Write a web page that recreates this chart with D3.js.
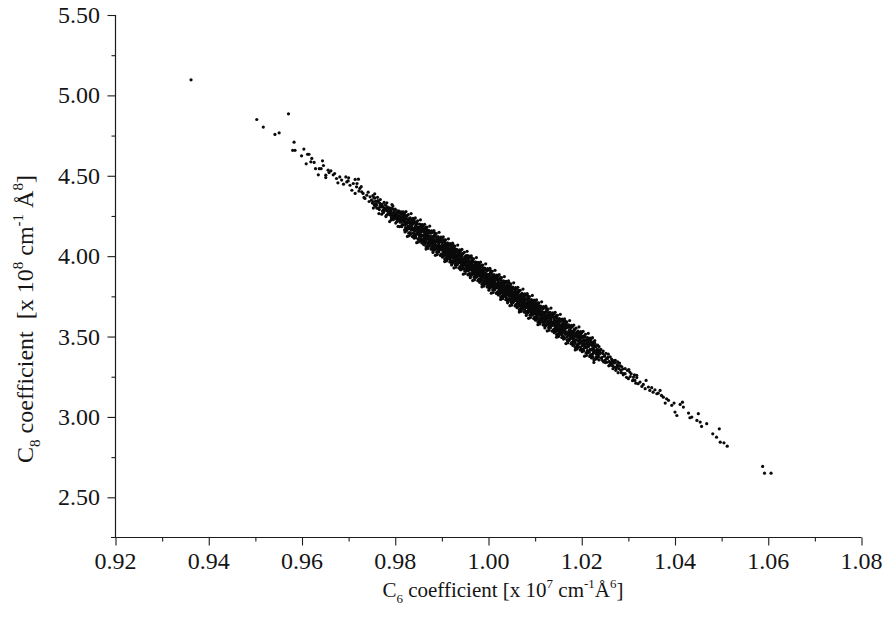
<!DOCTYPE html>
<html>
<head>
<meta charset="utf-8">
<script src="https://cdnjs.cloudflare.com/ajax/libs/d3/7.8.5/d3.min.js"></script>
<style>
	body { margin: 0; background: #ffffff; }
	svg text { font-family: "Liberation Serif", "Times New Roman", serif; fill: #151515; }
</style>
</head>
<body>
<svg id="chart" width="884" height="619"></svg>
<script>

// Tick values
var xTicks = [0.92, 0.94, 0.96, 0.98, 1.00, 1.02, 1.04, 1.06, 1.08];
var xMinor = [0.93, 0.95, 0.97, 0.99, 1.01, 1.03, 1.05, 1.07];
var yTicks = [2.50, 3.00, 3.50, 4.00, 4.50, 5.00, 5.50];
var yMinor = [2.75, 3.25, 3.75, 4.25, 4.75, 5.25];

// [C6, C8] pairs
var outlierPoints = [
	[0.9362,5.097],[0.9503,4.850],[0.9517,4.803],[0.9542,4.757],[0.9551,4.767],[0.9571,4.885],
	[0.9583,4.709],[0.9580,4.658],[0.9585,4.658]
];

var upperTail = [
	[0.9599,4.624],[0.9604,4.666],[0.9612,4.634],[0.9615,4.634],[0.9619,4.587],[0.9621,4.608],[0.9609,4.574],
	[0.9626,4.583],[0.9644,4.593],[0.9629,4.544],[0.9637,4.544],[0.9641,4.544],[0.9646,4.564],[0.9635,4.506],
	[0.9651,4.504],[0.9651,4.489],[0.9656,4.535],[0.9662,4.531],[0.9670,4.514],[0.9667,4.506],[0.9674,4.483],
	[0.9681,4.493],[0.9685,4.473],[0.9694,4.493],[0.9696,4.462],[0.9677,4.456],[0.9699,4.468],[0.9714,4.477],
	[0.9721,4.479],[0.9703,4.441],[0.9710,4.452],[0.9717,4.431],[0.9707,4.410],[0.9724,4.421],[0.9728,4.400],
	[0.9714,4.390],[0.9731,4.390],[0.9739,4.379],[0.9735,4.359],[0.9746,4.369],[0.9749,4.348],[0.9753,4.338],
	[0.9760,4.317],[0.9767,4.328],[0.9771,4.306],[0.9764,4.296],[0.9774,4.286],[0.9782,4.296],[0.9789,4.286],
	[0.9817,4.275],[0.9658,4.520],[0.9689,4.448],[0.9700,4.487],[0.9718,4.452],[0.9727,4.432],[0.9742,4.398],
	[0.9733,4.365],[0.9744,4.340],[0.9756,4.362],[0.9722,4.405]
];

var coreBand = [
	[0.9752,4.376],[0.9755,4.320],[0.9758,4.342],[0.9753,4.299],[0.9756,4.388],[0.9759,4.327],
	[0.9761,4.298],[0.9764,4.337],[0.9767,4.308],[0.9762,4.366],[0.9769,4.314],[0.9765,4.265],
	[0.9770,4.323],[0.9773,4.280],[0.9776,4.334],[0.9778,4.285],[0.9774,4.306],[0.9771,4.261],
	[0.9781,4.254],[0.9783,4.307],[0.9785,4.269],[0.9787,4.285],[0.9789,4.271],[0.9782,4.332],[0.9784,4.261],[0.9786,4.294],[0.9788,4.215],
	[0.9790,4.277],[0.9792,4.240],[0.9794,4.294],[0.9796,4.252],[0.9798,4.274],[0.9791,4.225],[0.9793,4.321],[0.9797,4.240],[0.9799,4.256],
	[0.9801,4.260],[0.9803,4.214],[0.9805,4.267],[0.9807,4.233],[0.9809,4.274],[0.9802,4.233],[0.9804,4.246],[0.9806,4.185],[0.9808,4.250],
	[0.9810,4.212],[0.9812,4.246],[0.9814,4.184],[0.9816,4.226],[0.9818,4.251],[0.9811,4.222],[0.9813,4.276],[0.9815,4.197],[0.9819,4.212],
	[0.9820,4.163],[0.9821,4.233],[0.9822,4.198],[0.9823,4.252],[0.9824,4.201],[0.9825,4.211],[0.9826,4.169],[0.9827,4.230],[0.9828,4.177],[0.9829,4.209],[0.9822,4.213],[0.9827,4.185],
	[0.9830,4.224],[0.9831,4.171],[0.9832,4.197],[0.9833,4.137],[0.9834,4.199],[0.9835,4.179],[0.9836,4.226],[0.9837,4.168],[0.9838,4.199],[0.9839,4.143],[0.9834,4.187],[0.9836,4.167],
	[0.9840,4.163],[0.9841,4.217],[0.9842,4.138],[0.9843,4.182],[0.9844,4.116],[0.9845,4.195],[0.9846,4.164],[0.9847,4.140],[0.9848,4.166],[0.9849,4.178],[0.9843,4.164],[0.9848,4.144],
	[0.9850,4.168],[0.9851,4.148],[0.9852,4.181],[0.9853,4.128],[0.9854,4.151],[0.9855,4.094],[0.9856,4.164],[0.9857,4.129],[0.9858,4.183],[0.9859,4.104],[0.9855,4.152],[0.9852,4.136],
	[0.9860,4.093],[0.9861,4.151],[0.9862,4.125],[0.9863,4.166],[0.9864,4.098],[0.9865,4.130],[0.9866,4.060],[0.9867,4.147],[0.9868,4.107],[0.9869,4.128],[0.9861,4.132],[0.9863,4.109],[0.9865,4.179],[0.9867,4.086],[0.9869,4.131],
	[0.9870,4.142],[0.9871,4.079],[0.9872,4.123],[0.9873,4.098],[0.9874,4.152],[0.9875,4.086],[0.9876,4.103],[0.9877,4.060],[0.9878,4.118],[0.9879,4.092],[0.9870,4.053],[0.9872,4.149],[0.9874,4.079],[0.9876,4.109],[0.9878,4.084],
	[0.9880,4.100],[0.9881,4.071],[0.9882,4.122],[0.9883,4.041],[0.9884,4.101],[0.9885,4.077],[0.9886,4.125],[0.9887,4.066],[0.9888,4.101],[0.9889,4.047],[0.9882,4.089],[0.9884,4.147],[0.9886,4.045],[0.9888,4.088],[0.9881,4.023],
	[0.9890,4.061],[0.9891,4.107],[0.9892,4.032],[0.9893,4.078],[0.9894,4.065],[0.9895,4.090],[0.9896,4.039],[0.9897,4.110],[0.9898,4.008],[0.9899,4.061],[0.9893,4.087],[0.9895,4.054],[0.9897,4.056],[0.9899,4.094],[0.9890,4.046],
	[0.9900,4.015],[0.9901,4.073],[0.9902,4.047],[0.9903,4.088],[0.9904,4.020],[0.9905,4.052],[0.9906,3.982],[0.9907,4.069],[0.9908,4.029],[0.9909,4.050],[0.9901,4.054],[0.9903,4.031],[0.9905,4.101],[0.9907,4.008],[0.9909,4.053],[0.9901,4.046],[0.9903,4.058],[0.9905,4.030],[0.9907,4.052],[0.9909,4.037],
	[0.9910,4.063],[0.9911,4.000],[0.9912,4.044],[0.9913,4.019],[0.9914,4.073],[0.9915,4.007],[0.9916,4.024],[0.9917,3.981],[0.9918,4.039],[0.9919,4.013],[0.9910,3.974],[0.9912,4.070],[0.9914,4.000],[0.9916,4.030],[0.9918,4.005],[0.9910,4.045],[0.9912,4.018],[0.9914,4.048],[0.9916,4.021],[0.9918,3.998],
	[0.9920,4.022],[0.9921,3.993],[0.9922,4.044],[0.9923,3.963],[0.9924,4.023],[0.9925,3.999],[0.9926,4.047],[0.9927,3.988],[0.9928,4.023],[0.9929,3.969],[0.9922,4.011],[0.9924,4.069],[0.9926,3.967],[0.9928,4.010],[0.9921,3.945],[0.9921,4.007],[0.9923,4.015],[0.9925,3.991],[0.9927,4.013],[0.9929,3.998],
	[0.9930,3.982],[0.9931,4.028],[0.9932,3.953],[0.9933,3.999],[0.9934,3.986],[0.9935,4.011],[0.9936,3.960],[0.9937,4.031],[0.9938,3.929],[0.9939,3.982],[0.9933,4.008],[0.9935,3.975],[0.9937,3.977],[0.9939,4.015],[0.9930,3.967],[0.9930,4.006],[0.9932,3.979],[0.9934,4.009],[0.9936,3.982],[0.9938,3.959],
	[0.9940,4.005],[0.9941,3.942],[0.9942,3.986],[0.9943,3.961],[0.9944,4.015],[0.9945,3.949],[0.9946,3.966],[0.9947,3.923],[0.9948,3.981],[0.9949,3.955],[0.9940,3.916],[0.9942,4.012],[0.9944,3.942],[0.9946,3.972],[0.9948,3.947],[0.9941,3.968],[0.9943,3.976],[0.9945,3.952],[0.9947,3.974],[0.9949,3.959],
	[0.9950,3.917],[0.9951,3.975],[0.9952,3.949],[0.9953,3.990],[0.9954,3.922],[0.9955,3.954],[0.9956,3.884],[0.9957,3.971],[0.9958,3.931],[0.9959,3.952],[0.9951,3.956],[0.9953,3.933],[0.9955,4.003],[0.9957,3.910],[0.9959,3.955],[0.9950,3.967],[0.9952,3.940],[0.9954,3.970],[0.9956,3.943],[0.9958,3.920],
	[0.9960,3.943],[0.9961,3.914],[0.9962,3.965],[0.9963,3.884],[0.9964,3.944],[0.9965,3.920],[0.9966,3.968],[0.9967,3.909],[0.9968,3.944],[0.9969,3.890],[0.9962,3.932],[0.9964,3.990],[0.9966,3.888],[0.9968,3.931],[0.9961,3.866],[0.9961,3.928],[0.9963,3.936],[0.9965,3.912],[0.9967,3.934],[0.9969,3.919],
	[0.9970,3.904],[0.9971,3.950],[0.9972,3.875],[0.9973,3.921],[0.9974,3.908],[0.9975,3.933],[0.9976,3.882],[0.9977,3.953],[0.9978,3.851],[0.9979,3.904],[0.9973,3.930],[0.9975,3.897],[0.9977,3.899],[0.9979,3.937],[0.9970,3.889],[0.9970,3.928],[0.9972,3.901],[0.9974,3.931],[0.9976,3.904],[0.9978,3.881],
	[0.9980,3.858],[0.9981,3.916],[0.9982,3.890],[0.9983,3.931],[0.9984,3.863],[0.9985,3.895],[0.9986,3.825],[0.9987,3.912],[0.9988,3.872],[0.9989,3.893],[0.9981,3.897],[0.9983,3.874],[0.9985,3.944],[0.9987,3.851],[0.9989,3.896],[0.9981,3.889],[0.9983,3.901],[0.9985,3.873],[0.9987,3.895],[0.9989,3.880],
	[0.9990,3.907],[0.9991,3.844],[0.9992,3.888],[0.9993,3.863],[0.9994,3.917],[0.9995,3.851],[0.9996,3.868],[0.9997,3.825],[0.9998,3.883],[0.9999,3.857],[0.9990,3.818],[0.9992,3.914],[0.9994,3.844],[0.9996,3.874],[0.9998,3.849],[0.9990,3.889],[0.9992,3.862],[0.9994,3.892],[0.9996,3.865],[0.9998,3.842],
	[1.0000,3.865],[1.0001,3.836],[1.0002,3.887],[1.0003,3.806],[1.0004,3.866],[1.0005,3.842],[1.0006,3.890],[1.0007,3.831],[1.0008,3.866],[1.0009,3.812],[1.0002,3.854],[1.0004,3.912],[1.0006,3.810],[1.0008,3.853],[1.0001,3.788],[1.0001,3.850],[1.0003,3.858],[1.0005,3.834],[1.0007,3.856],[1.0009,3.841],
	[1.0010,3.825],[1.0011,3.871],[1.0012,3.796],[1.0013,3.842],[1.0014,3.829],[1.0015,3.854],[1.0016,3.803],[1.0017,3.874],[1.0018,3.772],[1.0019,3.825],[1.0013,3.851],[1.0015,3.818],[1.0017,3.820],[1.0019,3.858],[1.0010,3.810],[1.0010,3.849],[1.0012,3.822],[1.0014,3.852],[1.0016,3.828],[1.0018,3.802],
	[1.0020,3.780],[1.0021,3.838],[1.0022,3.812],[1.0023,3.853],[1.0024,3.785],[1.0025,3.817],[1.0026,3.747],[1.0027,3.834],[1.0028,3.794],[1.0029,3.815],[1.0021,3.819],[1.0023,3.796],[1.0025,3.866],[1.0027,3.773],[1.0029,3.818],[1.0021,3.811],[1.0023,3.823],[1.0025,3.795],[1.0027,3.817],[1.0029,3.802],
	[1.0030,3.828],[1.0031,3.765],[1.0032,3.809],[1.0033,3.784],[1.0034,3.838],[1.0035,3.772],[1.0036,3.789],[1.0037,3.746],[1.0038,3.804],[1.0039,3.778],[1.0030,3.739],[1.0032,3.835],[1.0034,3.765],[1.0036,3.795],[1.0038,3.770],[1.0030,3.810],[1.0032,3.783],[1.0034,3.813],[1.0036,3.786],[1.0038,3.763],
	[1.0040,3.787],[1.0041,3.758],[1.0042,3.809],[1.0043,3.728],[1.0044,3.788],[1.0045,3.764],[1.0046,3.812],[1.0047,3.753],[1.0048,3.791],[1.0049,3.734],[1.0042,3.776],[1.0044,3.834],[1.0046,3.732],[1.0048,3.775],[1.0041,3.710],[1.0041,3.772],[1.0043,3.780],[1.0045,3.756],[1.0047,3.778],[1.0049,3.763],
	[1.0050,3.747],[1.0051,3.793],[1.0052,3.718],[1.0053,3.764],[1.0054,3.751],[1.0055,3.776],[1.0056,3.725],[1.0057,3.796],[1.0058,3.694],[1.0059,3.747],[1.0053,3.773],[1.0055,3.740],[1.0057,3.742],[1.0059,3.780],[1.0050,3.732],[1.0050,3.771],[1.0052,3.744],[1.0054,3.774],[1.0056,3.747],[1.0058,3.724],
	[1.0060,3.701],[1.0061,3.759],[1.0062,3.733],[1.0063,3.774],[1.0064,3.706],[1.0065,3.738],[1.0066,3.668],[1.0067,3.755],[1.0068,3.715],[1.0069,3.736],[1.0061,3.740],[1.0063,3.717],[1.0065,3.787],[1.0067,3.694],[1.0069,3.739],[1.0061,3.732],[1.0063,3.744],[1.0065,3.716],[1.0067,3.741],[1.0069,3.723],
	[1.0070,3.750],[1.0071,3.687],[1.0072,3.731],[1.0073,3.706],[1.0074,3.760],[1.0075,3.694],[1.0076,3.711],[1.0077,3.668],[1.0078,3.726],[1.0079,3.700],[1.0070,3.661],[1.0072,3.757],[1.0074,3.687],[1.0076,3.717],[1.0078,3.692],[1.0070,3.732],[1.0072,3.705],[1.0074,3.735],[1.0076,3.708],[1.0078,3.685],
	[1.0080,3.708],[1.0081,3.679],[1.0082,3.730],[1.0083,3.649],[1.0084,3.709],[1.0085,3.685],[1.0086,3.733],[1.0087,3.674],[1.0088,3.712],[1.0089,3.655],[1.0082,3.697],[1.0084,3.755],[1.0086,3.653],[1.0088,3.696],[1.0081,3.631],[1.0081,3.693],[1.0083,3.701],[1.0085,3.677],[1.0087,3.699],[1.0089,3.684],
	[1.0090,3.669],[1.0091,3.715],[1.0092,3.640],[1.0093,3.686],[1.0094,3.673],[1.0095,3.698],[1.0096,3.647],[1.0097,3.718],[1.0098,3.616],[1.0099,3.669],[1.0093,3.695],[1.0095,3.662],[1.0097,3.664],[1.0099,3.702],[1.0090,3.654],[1.0090,3.693],[1.0092,3.666],[1.0094,3.696],[1.0096,3.672],[1.0098,3.646],
	[1.0100,3.623],[1.0101,3.681],[1.0102,3.655],[1.0103,3.696],[1.0104,3.628],[1.0105,3.660],[1.0106,3.590],[1.0107,3.677],[1.0108,3.637],[1.0109,3.658],[1.0101,3.662],[1.0103,3.639],[1.0105,3.709],[1.0107,3.616],[1.0109,3.661],[1.0101,3.654],[1.0103,3.666],[1.0105,3.638],[1.0107,3.663],[1.0109,3.645],
	[1.0110,3.671],[1.0111,3.608],[1.0112,3.652],[1.0113,3.627],[1.0114,3.681],[1.0115,3.615],[1.0116,3.632],[1.0117,3.589],[1.0118,3.647],[1.0119,3.621],[1.0110,3.582],[1.0112,3.678],[1.0114,3.608],[1.0116,3.638],[1.0118,3.613],
	[1.0120,3.630],[1.0121,3.601],[1.0122,3.652],[1.0123,3.571],[1.0124,3.631],[1.0125,3.607],[1.0126,3.655],[1.0127,3.596],[1.0128,3.634],[1.0129,3.577],[1.0122,3.619],[1.0124,3.677],[1.0126,3.575],[1.0128,3.618],[1.0121,3.553],
	[1.0130,3.590],[1.0131,3.636],[1.0132,3.561],[1.0133,3.607],[1.0134,3.594],[1.0135,3.619],[1.0136,3.568],[1.0137,3.639],[1.0138,3.537],[1.0139,3.590],[1.0133,3.616],[1.0135,3.583],[1.0137,3.585],[1.0139,3.623],[1.0130,3.575],
	[1.0140,3.545],[1.0141,3.603],[1.0142,3.577],[1.0143,3.618],[1.0144,3.550],[1.0145,3.582],[1.0146,3.512],[1.0147,3.599],[1.0148,3.559],[1.0149,3.580],[1.0141,3.584],[1.0143,3.561],[1.0145,3.631],[1.0147,3.538],[1.0149,3.583],
	[1.0150,3.593],[1.0151,3.530],[1.0152,3.574],[1.0153,3.549],[1.0154,3.603],[1.0155,3.537],[1.0156,3.554],[1.0157,3.511],[1.0158,3.569],[1.0159,3.543],[1.0150,3.504],[1.0152,3.600],[1.0154,3.530],[1.0156,3.560],[1.0158,3.535],
	[1.0160,3.551],[1.0161,3.522],[1.0162,3.573],[1.0163,3.492],[1.0164,3.552],[1.0165,3.528],[1.0166,3.576],[1.0167,3.517],[1.0168,3.555],[1.0169,3.498],[1.0162,3.540],[1.0164,3.598],
	[1.0170,3.512],[1.0171,3.558],[1.0172,3.483],[1.0173,3.529],[1.0174,3.516],[1.0175,3.541],[1.0176,3.490],[1.0177,3.561],[1.0178,3.459],[1.0179,3.512],[1.0173,3.538],[1.0175,3.505],
	[1.0180,3.466],[1.0181,3.524],[1.0182,3.498],[1.0183,3.539],[1.0184,3.471],[1.0185,3.503],[1.0186,3.433],[1.0187,3.520],[1.0188,3.480],[1.0189,3.501],[1.0181,3.505],[1.0183,3.482],
	[1.0190,3.515],[1.0191,3.452],[1.0192,3.496],[1.0193,3.471],[1.0194,3.525],[1.0195,3.459],[1.0196,3.476],[1.0197,3.433],[1.0198,3.491],[1.0199,3.465],[1.0190,3.426],[1.0192,3.522],
	[1.0200,3.473],[1.0201,3.444],[1.0202,3.495],[1.0203,3.414],[1.0204,3.474],[1.0205,3.450],[1.0206,3.498],[1.0207,3.439],[1.0208,3.477],
	[1.0210,3.433],[1.0211,3.479],[1.0212,3.404],[1.0213,3.450],[1.0214,3.437],[1.0215,3.462],[1.0216,3.411],[1.0217,3.482],[1.0218,3.380],
	[1.0220,3.388],[1.0221,3.446],[1.0222,3.420],[1.0223,3.461],[1.0224,3.393],[1.0225,3.425],[1.0226,3.355],[1.0227,3.442],[1.0228,3.402],
	[1.0230,3.436],[1.0231,3.373],[1.0232,3.417],[1.0233,3.392],[1.0234,3.446],[1.0235,3.380],[1.0236,3.397],[1.0237,3.354],[1.0238,3.412],
	[1.0241,3.420],[1.0243,3.371],[1.0245,3.395],[1.0247,3.342],[1.0249,3.381],[1.0244,3.352],
	[1.0250,3.352],[1.0252,3.396],[1.0254,3.340],[1.0256,3.371],[1.0258,3.318],[1.0253,3.365],
	[1.0261,3.374],[1.0263,3.322],[1.0265,3.345],[1.0267,3.300],[1.0269,3.351],[1.0262,3.336],
	[1.0270,3.310],[1.0272,3.352],[1.0274,3.301],[1.0276,3.325],[1.0278,3.275],[1.0279,3.318],
	[1.0281,3.335],[1.0284,3.290],[1.0286,3.312],[1.0289,3.262],
	[1.0290,3.270],[1.0293,3.301],[1.0296,3.246],[1.0298,3.289]
];

// Extra points in the solid middle of the band
var coreFill = [
	[0.9790,4.254],[0.9791,4.284],[0.9792,4.237],[0.9793,4.297],[0.9794,4.264],[0.9795,4.312],[0.9796,4.227],[0.9797,4.275],[0.9798,4.244],[0.9799,4.287],
	[0.9800,4.292],[0.9801,4.206],[0.9802,4.270],[0.9803,4.237],[0.9804,4.253],[0.9805,4.220],[0.9806,4.268],[0.9807,4.235],[0.9808,4.281],[0.9809,4.184],
	[0.9810,4.227],[0.9811,4.265],[0.9812,4.213],[0.9813,4.186],[0.9814,4.244],[0.9815,4.226],[0.9816,4.195],[0.9817,4.260],[0.9818,4.214],[0.9819,4.238],
	[0.9820,4.195],[0.9821,4.225],[0.9822,4.178],[0.9823,4.238],[0.9824,4.205],[0.9825,4.253],[0.9826,4.168],[0.9827,4.216],[0.9828,4.185],[0.9829,4.228],
	[0.9830,4.233],[0.9831,4.147],[0.9832,4.211],[0.9833,4.178],[0.9834,4.194],[0.9835,4.161],[0.9836,4.209],[0.9837,4.176],[0.9838,4.222],[0.9839,4.125],
	[0.9840,4.169],[0.9841,4.207],[0.9842,4.155],[0.9843,4.128],[0.9844,4.186],[0.9845,4.168],[0.9846,4.137],[0.9847,4.202],[0.9848,4.156],[0.9849,4.180],
	[0.9850,4.136],[0.9851,4.166],[0.9852,4.119],[0.9853,4.179],[0.9854,4.146],[0.9855,4.194],[0.9856,4.109],[0.9857,4.157],[0.9858,4.126],[0.9859,4.169],
	[0.9860,4.174],[0.9861,4.088],[0.9862,4.152],[0.9863,4.119],[0.9864,4.135],[0.9865,4.102],[0.9866,4.150],[0.9867,4.117],[0.9868,4.163],[0.9869,4.066],
	[0.9870,4.110],[0.9871,4.148],[0.9872,4.096],[0.9873,4.069],[0.9874,4.127],[0.9875,4.109],[0.9876,4.078],[0.9877,4.143],[0.9878,4.097],[0.9879,4.121],
	[0.9880,4.077],[0.9881,4.107],[0.9882,4.060],[0.9883,4.120],[0.9884,4.087],[0.9885,4.135],[0.9886,4.050],[0.9887,4.098],[0.9888,4.067],[0.9889,4.110],
	[0.9890,4.116],[0.9891,4.030],[0.9892,4.094],[0.9893,4.061],[0.9894,4.077],[0.9895,4.044],[0.9896,4.092],[0.9897,4.059],[0.9898,4.105],[0.9899,4.008],
	[0.9900,4.051],[0.9901,4.089],[0.9902,4.037],[0.9903,4.010],[0.9904,4.068],[0.9905,4.050],[0.9906,4.019],[0.9907,4.084],[0.9908,4.038],[0.9909,4.062],
	[0.9910,4.018],[0.9911,4.048],[0.9912,4.001],[0.9913,4.061],[0.9914,4.028],[0.9915,4.076],[0.9916,3.991],[0.9917,4.039],[0.9918,4.008],[0.9919,4.051],
	[0.9920,4.057],[0.9921,3.971],[0.9922,4.035],[0.9923,4.002],[0.9924,4.018],[0.9925,3.985],[0.9926,4.033],[0.9927,4.000],[0.9928,4.046],[0.9929,3.949],
	[0.9930,3.992],[0.9931,4.030],[0.9932,3.978],[0.9933,3.951],[0.9934,4.009],[0.9935,3.991],[0.9936,3.960],[0.9937,4.025],[0.9938,3.979],[0.9939,4.003],
	[0.9940,3.960],[0.9941,3.990],[0.9942,3.943],[0.9943,4.003],[0.9944,3.970],[0.9945,4.018],[0.9946,3.933],[0.9947,3.981],[0.9948,3.950],[0.9949,3.993],
	[0.9950,3.998],[0.9951,3.912],[0.9952,3.976],[0.9953,3.943],[0.9954,3.959],[0.9955,3.926],[0.9956,3.974],[0.9957,3.941],[0.9958,3.987],[0.9959,3.890],
	[0.9960,3.933],[0.9961,3.971],[0.9962,3.919],[0.9963,3.892],[0.9964,3.950],[0.9965,3.932],[0.9966,3.901],[0.9967,3.966],[0.9968,3.920],[0.9969,3.944],
	[0.9970,3.901],[0.9971,3.931],[0.9972,3.884],[0.9973,3.944],[0.9974,3.911],[0.9975,3.959],[0.9976,3.874],[0.9977,3.922],[0.9978,3.891],[0.9979,3.934],
	[0.9980,3.939],[0.9981,3.853],[0.9982,3.917],[0.9983,3.884],[0.9984,3.900],[0.9985,3.867],[0.9986,3.915],[0.9987,3.882],[0.9988,3.928],[0.9989,3.831],
	[0.9990,3.875],[0.9991,3.913],[0.9992,3.861],[0.9993,3.834],[0.9994,3.892],[0.9995,3.874],[0.9996,3.843],[0.9997,3.908],[0.9998,3.862],[0.9999,3.886],
	[1.0000,3.842],[1.0001,3.872],[1.0002,3.825],[1.0003,3.885],[1.0004,3.852],[1.0005,3.900],[1.0006,3.815],[1.0007,3.863],[1.0008,3.832],[1.0009,3.875],
	[1.0010,3.880],[1.0011,3.794],[1.0012,3.858],[1.0013,3.825],[1.0014,3.841],[1.0015,3.808],[1.0016,3.856],[1.0017,3.823],[1.0018,3.869],[1.0019,3.772],
	[1.0020,3.816],[1.0021,3.854],[1.0022,3.802],[1.0023,3.775],[1.0024,3.833],[1.0025,3.815],[1.0026,3.784],[1.0027,3.849],[1.0028,3.803],[1.0029,3.827],
	[1.0030,3.783],[1.0031,3.813],[1.0032,3.766],[1.0033,3.826],[1.0034,3.793],[1.0035,3.841],[1.0036,3.756],[1.0037,3.804],[1.0038,3.773],[1.0039,3.816],
	[1.0040,3.822],[1.0041,3.736],[1.0042,3.800],[1.0043,3.767],[1.0044,3.783],[1.0045,3.750],[1.0046,3.798],[1.0047,3.765],[1.0048,3.811],[1.0049,3.714],
	[1.0050,3.757],[1.0051,3.795],[1.0052,3.743],[1.0053,3.716],[1.0054,3.774],[1.0055,3.756],[1.0056,3.725],[1.0057,3.790],[1.0058,3.744],[1.0059,3.768],
	[1.0060,3.724],[1.0061,3.754],[1.0062,3.707],[1.0063,3.767],[1.0064,3.734],[1.0065,3.782],[1.0066,3.697],[1.0067,3.745],[1.0068,3.714],[1.0069,3.757],
	[1.0070,3.763],[1.0071,3.677],[1.0072,3.741],[1.0073,3.708],[1.0074,3.724],[1.0075,3.691],[1.0076,3.739],[1.0077,3.706],[1.0078,3.752],[1.0079,3.655],
	[1.0080,3.698],[1.0081,3.736],[1.0082,3.684],[1.0083,3.657],[1.0084,3.715],[1.0085,3.697],[1.0086,3.666],[1.0087,3.731],[1.0088,3.685],[1.0089,3.709],
	[1.0090,3.666],[1.0091,3.696],[1.0092,3.649],[1.0093,3.709],[1.0094,3.676],[1.0095,3.724],[1.0096,3.639],[1.0097,3.687],[1.0098,3.656],[1.0099,3.699],
	[1.0100,3.704],[1.0101,3.618],[1.0102,3.682],[1.0103,3.649],[1.0104,3.665],[1.0105,3.632],[1.0106,3.680],[1.0107,3.647],[1.0108,3.693],[1.0109,3.596],
	[1.0110,3.639],[1.0111,3.677],[1.0112,3.625],[1.0113,3.598],[1.0114,3.656],[1.0115,3.638],[1.0116,3.607],[1.0117,3.672],[1.0118,3.626],[1.0119,3.650],
	[1.0120,3.607],[1.0121,3.637],[1.0122,3.590],[1.0123,3.650],[1.0124,3.617],[1.0125,3.665],[1.0126,3.580],[1.0127,3.628],[1.0128,3.597],[1.0129,3.640],
	[1.0130,3.645],[1.0131,3.559],[1.0132,3.623],[1.0133,3.590],[1.0134,3.606],[1.0135,3.573],[1.0136,3.621],[1.0137,3.588],[1.0138,3.634],[1.0139,3.537],
	[1.0140,3.581],[1.0141,3.619],[1.0142,3.567],[1.0143,3.540],[1.0144,3.598],[1.0145,3.580],[1.0146,3.549],[1.0147,3.614],[1.0148,3.568],[1.0149,3.592],
	[1.0150,3.548],[1.0151,3.578],[1.0152,3.531],[1.0153,3.591],[1.0154,3.558],[1.0155,3.606],[1.0156,3.521],[1.0157,3.569],[1.0158,3.538],[1.0159,3.581],
	[1.0160,3.586],[1.0161,3.500],[1.0162,3.564],[1.0163,3.531],[1.0164,3.547],[1.0165,3.514],[1.0166,3.562],[1.0167,3.529],[1.0168,3.575],[1.0169,3.478],
	[1.0170,3.522],[1.0171,3.560],[1.0172,3.508],[1.0173,3.481],[1.0174,3.539],[1.0175,3.521],[1.0176,3.490],[1.0177,3.555],[1.0178,3.509],[1.0179,3.533],
	[1.0180,3.489],[1.0181,3.519],[1.0182,3.472],[1.0183,3.532],[1.0184,3.499],[1.0185,3.547],[1.0186,3.462],[1.0187,3.510],[1.0188,3.479],[1.0189,3.522],
	[1.0190,3.528],[1.0191,3.442],[1.0192,3.506],[1.0193,3.473],[1.0194,3.489],[1.0195,3.456],[1.0196,3.504],[1.0197,3.471],[1.0198,3.517],[1.0199,3.420],
	[1.0200,3.463],[1.0201,3.501],[1.0202,3.449],[1.0203,3.422],[1.0204,3.480],[1.0205,3.462],[1.0206,3.431],[1.0207,3.496],[1.0208,3.450],[1.0209,3.474],
	[1.0210,3.430],[1.0211,3.460],[1.0212,3.413],[1.0213,3.473],[1.0214,3.440],[1.0215,3.488],[1.0216,3.403],[1.0217,3.451],[1.0218,3.420],[1.0219,3.463],
	[1.0220,3.469],[1.0221,3.383],[1.0222,3.447],[1.0223,3.414],[1.0224,3.430],[1.0225,3.397],[1.0226,3.445],[1.0227,3.412],[1.0228,3.458],[1.0229,3.361],
	[1.0230,3.404],[1.0231,3.442],[1.0232,3.390],[1.0233,3.363],[1.0234,3.421],[1.0235,3.403],[1.0236,3.372],[1.0237,3.437],[1.0238,3.391],[1.0239,3.415]
];

// Points on the ragged upper and lower edges of the band
var bandEdges = [
	[0.9820,4.268],[0.9821,4.151],[0.9823,4.277],[0.9824,4.157],[0.9825,4.250],[0.9826,4.123],[0.9828,4.259],[0.9829,4.143],
	[0.9830,4.127],[0.9832,4.239],[0.9833,4.142],[0.9834,4.265],[0.9836,4.226],[0.9837,4.121],[0.9838,4.235],[0.9839,4.127],
	[0.9840,4.229],[0.9841,4.112],[0.9843,4.238],[0.9844,4.118],[0.9845,4.211],[0.9846,4.084],[0.9848,4.220],[0.9849,4.104],
	[0.9850,4.088],[0.9852,4.200],[0.9853,4.103],[0.9854,4.226],[0.9856,4.187],[0.9857,4.082],[0.9858,4.196],[0.9859,4.088],
	[0.9860,4.189],[0.9861,4.072],[0.9863,4.198],[0.9864,4.078],[0.9865,4.171],[0.9866,4.044],[0.9868,4.180],[0.9869,4.064],
	[0.9870,4.049],[0.9872,4.161],[0.9873,4.064],[0.9874,4.187],[0.9876,4.148],[0.9877,4.043],[0.9878,4.157],[0.9879,4.049],
	[0.9880,4.150],[0.9881,4.033],[0.9883,4.159],[0.9884,4.039],[0.9885,4.132],[0.9886,4.005],[0.9888,4.141],[0.9889,4.025],
	[0.9890,4.010],[0.9892,4.122],[0.9893,4.025],[0.9894,4.148],[0.9896,4.109],[0.9897,4.004],[0.9898,4.118],[0.9899,4.010],
	[0.9900,4.111],[0.9901,3.994],[0.9903,4.120],[0.9904,4.000],[0.9905,4.093],[0.9906,3.966],[0.9908,4.102],[0.9909,3.986],
	[0.9910,3.970],[0.9912,4.082],[0.9913,3.985],[0.9914,4.108],[0.9916,4.069],[0.9917,3.964],[0.9918,4.078],[0.9919,3.970],
	[0.9920,4.072],[0.9921,3.955],[0.9923,4.081],[0.9924,3.961],[0.9925,4.054],[0.9926,3.927],[0.9928,4.063],[0.9929,3.947],
	[0.9930,3.931],[0.9932,4.043],[0.9933,3.946],[0.9934,4.069],[0.9936,4.030],[0.9937,3.925],[0.9938,4.039],[0.9939,3.931],
	[0.9940,4.033],[0.9941,3.916],[0.9943,4.042],[0.9944,3.922],[0.9945,4.015],[0.9946,3.888],[0.9948,4.024],[0.9949,3.908],
	[0.9950,3.892],[0.9952,4.004],[0.9953,3.907],[0.9954,4.030],[0.9956,3.991],[0.9957,3.886],[0.9958,4.000],[0.9959,3.892],
	[0.9960,3.993],[0.9961,3.876],[0.9963,4.002],[0.9964,3.882],[0.9965,3.975],[0.9966,3.848],[0.9968,3.984],[0.9969,3.868],
	[0.9970,3.853],[0.9972,3.965],[0.9973,3.868],[0.9974,3.991],[0.9976,3.952],[0.9977,3.847],[0.9978,3.961],[0.9979,3.853],
	[0.9980,3.954],[0.9981,3.837],[0.9983,3.963],[0.9984,3.843],[0.9985,3.936],[0.9986,3.809],[0.9988,3.945],[0.9989,3.829],
	[0.9990,3.814],[0.9992,3.926],[0.9993,3.829],[0.9994,3.952],[0.9996,3.913],[0.9997,3.808],[0.9998,3.922],[0.9999,3.814],
	[1.0000,3.915],[1.0001,3.798],[1.0003,3.924],[1.0004,3.804],[1.0005,3.897],[1.0006,3.770],[1.0008,3.906],[1.0009,3.790],
	[1.0010,3.774],[1.0012,3.886],[1.0013,3.789],[1.0014,3.912],[1.0016,3.873],[1.0017,3.768],[1.0018,3.882],[1.0019,3.774],
	[1.0020,3.876],[1.0021,3.759],[1.0023,3.885],[1.0024,3.765],[1.0025,3.858],[1.0026,3.731],[1.0028,3.867],[1.0029,3.751],
	[1.0030,3.735],[1.0032,3.847],[1.0033,3.750],[1.0034,3.873],[1.0036,3.834],[1.0037,3.729],[1.0038,3.843],[1.0039,3.735],
	[1.0040,3.837],[1.0041,3.720],[1.0043,3.846],[1.0044,3.726],[1.0045,3.819],[1.0046,3.692],[1.0048,3.828],[1.0049,3.712],
	[1.0050,3.696],[1.0052,3.808],[1.0053,3.711],[1.0054,3.834],[1.0056,3.795],[1.0057,3.690],[1.0058,3.804],[1.0059,3.696],
	[1.0060,3.797],[1.0061,3.680],[1.0063,3.806],[1.0064,3.686],[1.0065,3.779],[1.0066,3.652],[1.0068,3.788],[1.0069,3.672],
	[1.0070,3.657],[1.0072,3.769],[1.0073,3.672],[1.0074,3.795],[1.0076,3.756],[1.0077,3.651],[1.0078,3.765],[1.0079,3.657],
	[1.0080,3.758],[1.0081,3.641],[1.0083,3.767],[1.0084,3.647],[1.0085,3.740],[1.0086,3.613],[1.0088,3.749],[1.0089,3.633],
	[1.0090,3.618],[1.0092,3.730],[1.0093,3.633],[1.0094,3.756],[1.0096,3.717],[1.0097,3.612],[1.0098,3.726],[1.0099,3.618],
	[1.0100,3.719],[1.0101,3.602],[1.0103,3.728],[1.0104,3.608],[1.0105,3.701],[1.0106,3.574],[1.0108,3.710],[1.0109,3.594],
	[1.0110,3.578],[1.0112,3.690],[1.0113,3.593],[1.0114,3.716],[1.0116,3.677],[1.0117,3.572],[1.0118,3.686],[1.0119,3.578],
	[1.0120,3.680],[1.0121,3.563],[1.0123,3.689],[1.0124,3.569],[1.0125,3.662],[1.0126,3.535],[1.0128,3.671],[1.0129,3.555],
	[1.0130,3.539],[1.0132,3.651],[1.0133,3.554],[1.0134,3.677],[1.0136,3.638],[1.0137,3.533],[1.0138,3.647],[1.0139,3.539],
	[1.0140,3.641],[1.0141,3.524],[1.0143,3.650],[1.0144,3.530],[1.0145,3.623],[1.0146,3.496],[1.0148,3.632],[1.0149,3.516],
	[1.0150,3.500],[1.0152,3.612],[1.0153,3.515],[1.0154,3.638],[1.0156,3.599],[1.0157,3.494],[1.0158,3.608],[1.0159,3.500],
	[1.0160,3.601],[1.0161,3.484],[1.0163,3.610],[1.0164,3.490],[1.0165,3.583],[1.0166,3.456],[1.0168,3.592],[1.0169,3.476],
	[1.0170,3.461],[1.0172,3.573],[1.0173,3.476],[1.0174,3.599],[1.0176,3.560],[1.0177,3.455],[1.0178,3.569],[1.0179,3.461],
	[1.0180,3.562],[1.0181,3.445],[1.0183,3.571],[1.0184,3.451],[1.0185,3.544],[1.0186,3.417],[1.0188,3.553],[1.0189,3.437],
	[1.0190,3.422],[1.0192,3.534],[1.0193,3.437],[1.0194,3.560],[1.0196,3.521],[1.0197,3.416],[1.0198,3.530],[1.0199,3.422],
	[1.0200,3.523],[1.0201,3.406],[1.0203,3.532],[1.0204,3.412],[1.0205,3.505],[1.0206,3.378],[1.0208,3.514],[1.0209,3.398],
	[1.0210,3.382],[1.0212,3.494],[1.0213,3.397],[1.0214,3.520],[1.0216,3.481],[1.0217,3.376],[1.0218,3.490],[1.0219,3.382],
	[1.0220,3.484],[1.0221,3.367],[1.0223,3.493],[1.0224,3.373],[1.0225,3.466],[1.0226,3.339],[1.0228,3.475],[1.0229,3.359]
];

// Points where the band thins out at both ends
var bandEnds = [
	[0.9751,4.330],[0.9754,4.362],[0.9757,4.310],[0.9763,4.345],[0.9766,4.290],[0.9768,4.352],[0.9772,4.320],[0.9775,4.272],
	[0.9777,4.299],[0.9779,4.318],[0.9780,4.246],[0.9783,4.282],[0.9786,4.262],[0.9788,4.300],[0.9795,4.262],[0.9800,4.241],
	[0.9805,4.282],[0.9812,4.230],[0.9815,4.262],
	[1.0240,3.400],[1.0242,3.365],[1.0246,3.410],[1.0248,3.378],[1.0251,3.338],[1.0255,3.362],[1.0257,3.390],[1.0259,3.345],
	[1.0260,3.325],[1.0264,3.360],[1.0266,3.318],[1.0268,3.334],[1.0271,3.338],[1.0273,3.290],[1.0275,3.312],[1.0277,3.342],
	[1.0280,3.300],[1.0283,3.318],[1.0285,3.275],[1.0288,3.298]
];

var lowerTail = [
	[1.0301,3.295],[1.0304,3.251],[1.0306,3.268],[1.0309,3.225],[1.0310,3.230],[1.0313,3.262],[1.0316,3.210],[1.0318,3.245],
	[1.0293,3.269],[1.0303,3.279],[1.0300,3.238],[1.0311,3.248],[1.0314,3.227],[1.0318,3.258],[1.0321,3.207],[1.0325,3.217],
	[1.0329,3.190],[1.0332,3.202],[1.0338,3.227],[1.0336,3.176],[1.0343,3.186],[1.0346,3.165],[1.0350,3.182],[1.0353,3.154],
	[1.0357,3.169],[1.0361,3.144],[1.0364,3.148],[1.0368,3.165],[1.0371,3.134],[1.0375,3.123],[1.0379,3.086],[1.0382,3.113],
	[1.0386,3.103],[1.0393,3.072],[1.0398,3.086],[1.0400,3.030],[1.0404,3.009],[1.0411,3.078],[1.0416,3.092],[1.0418,3.061],
	[1.0429,3.024],[1.0432,2.995],[1.0436,2.999],[1.0447,2.978],[1.0450,3.020],[1.0454,2.968],[1.0457,2.941],[1.0468,2.958],
	[1.0481,2.895],[1.0489,2.874],[1.0495,2.926],[1.0497,2.843],[1.0505,2.839],[1.0512,2.818],
	[1.0588,2.692],[1.0592,2.650],[1.0606,2.650]
];

var allPoints = outlierPoints.concat(upperTail, coreBand, coreFill, bandEdges, bandEnds, lowerTail);

var svg = d3.select('#chart');

var x = d3.scaleLinear().domain([0.92, 1.08]).range([115.5, 861.5]);
var y = d3.scaleLinear().domain([2.25, 5.50]).range([537.5, 15]);
var fmt = d3.format('.2f');

// Draw tick marks only, labels are added separately
function drawTicks(axis, transform) {
	var g = svg.append('g')
		.attr('transform', transform)
		.attr('color', '#1c1c1c')
		.call(axis.tickFormat(''));
	g.select('.domain').remove();
	g.selectAll('line').attr('stroke-width', 1.1);
	return g;
};

drawTicks(d3.axisBottom(x).tickValues(xTicks).tickSize(8), 'translate(0,537.5)');
drawTicks(d3.axisBottom(x).tickValues(xMinor).tickSize(4), 'translate(0,537.5)');
drawTicks(d3.axisLeft(y).tickValues(yTicks).tickSize(8), 'translate(115.5,0)');
drawTicks(d3.axisLeft(y).tickValues(yMinor).tickSize(4), 'translate(115.5,0)');

// Tick labels
svg.append('g')
	.selectAll('text')
	.data(xTicks)
	.enter()
	.append('text')
	.attr('x', function(d) { return x(d); })
	.attr('y', 569)
	.attr('text-anchor', 'middle')
	.style('font-size', '24px')
	.text(fmt);

svg.append('g')
	.selectAll('text')
	.data(yTicks)
	.enter()
	.append('text')
	.attr('x', 100)
	.attr('y', function(d) { return y(d) + 8; })
	.attr('text-anchor', 'end')
	.style('font-size', '24px')
	.text(fmt);

// Axis lines
svg.append('line')
	.attr('x1', 111).attr('x2', x(1.08))
	.attr('y1', y(2.25)).attr('y2', y(2.25))
	.attr('stroke', '#1c1c1c').attr('stroke-width', 1.2);
svg.append('line')
	.attr('x1', x(0.92)).attr('x2', x(0.92))
	.attr('y1', y(5.50)).attr('y2', y(2.25))
	.attr('stroke', '#1c1c1c').attr('stroke-width', 1.2);

// Points
svg.append('g')
	.selectAll('circle')
	.data(allPoints)
	.enter()
	.append('circle')
	.attr('cx', function(d) { return x(d[0]); })
	.attr('cy', function(d) { return y(d[1]); })
	.attr('r', 1.6)
	.style('fill', '#0a0a0a');

// Build a title out of normal, sub and sup parts
function utility_Title(text, parts, size) {
	var small = Math.round(size * 0.62);
	var shift = 0;
	parts.forEach(function(p) {
		var target = p[1] == 'sub' ? size * 0.3 : (p[1] == 'sup' ? -size * 0.42 : 0);
		text.append('tspan')
			.attr('dy', target - shift)
			.style('font-size', (p[1] ? small : size) + 'px')
			.text(p[0]);
		shift = target;
	});
};

var xTitle = svg.append('text')
	.attr('x', 503).attr('y', 597)
	.attr('text-anchor', 'middle')
	.style('font-size', '21px');
utility_Title(xTitle, [['C'], ['6', 'sub'], [' coefficient [x 10'], ['7', 'sup'], [' cm'], ['-1', 'sup'], ['\u00c5'], ['6', 'sup'], [']']], 21);

var yTitle = svg.append('text')
	.attr('transform', 'translate(33,319) rotate(-90)')
	.attr('text-anchor', 'middle')
	.style('font-size', '24px')
	.style('white-space', 'pre');
utility_Title(yTitle, [['C'], ['8', 'sub'], [' coefficient  [x 10'], ['8', 'sup'], [' cm'], ['-1', 'sup'], [' \u00c5'], ['8', 'sup'], [']']], 24);

</script>
</body>
</html>
